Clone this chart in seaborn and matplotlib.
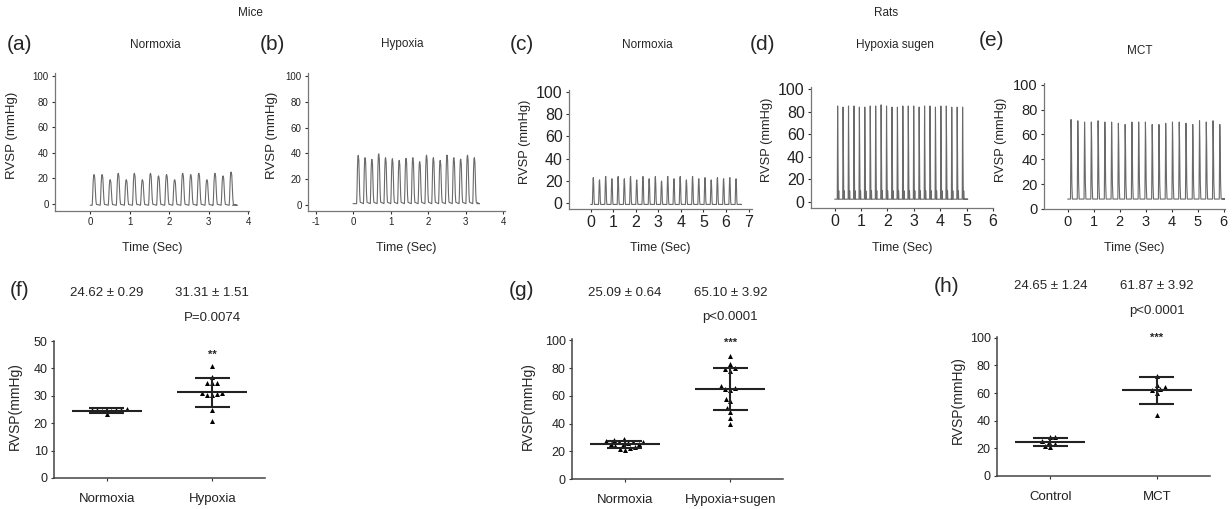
import numpy as np
import pandas as pd
import matplotlib.pyplot as plt
import seaborn as sns

sns.set_style("ticks")
plt.rcParams['font.family'] = ['Liberation Sans', 'DejaVu Sans']
plt.rcParams['axes.unicode_minus'] = False

# ---- pressure traces: peak height (mmHg) of every beat ----
peaks_a = [23, 23, 19, 24, 19, 24, 19, 24, 22, 23, 19, 24, 23, 24, 19, 24, 22, 25]
peaks_b = [38.5, 36.7, 35.4, 39.7, 36.7, 35.9, 34.6, 36.2, 36.7, 33.6, 38.7, 36.7,
           34.6, 38.7, 36.7, 35.6, 38.7, 36.7]
peaks_c = [23, 21, 24, 22, 24, 22, 24, 21, 24, 22, 24, 20, 24, 22, 24, 21, 24, 22,
           23, 21, 23, 22, 23, 22]
peaks_d = [85, 84, 85, 85, 84, 84, 85, 85, 86, 85, 84, 84, 85, 85, 85, 84, 85, 85,
           84, 85, 85, 84, 84, 84]
peaks_e = [72, 71, 70, 70, 71, 70, 70, 69, 68, 70, 70, 70, 68, 68, 69, 70, 70, 69,
           68, 71, 70, 71, 68]
# first peak time, beat period (s), trough pressure
first_peak = [0.10, 0.14, 0.12, 0.11, 0.13]
periods = [0.204, 0.182, 0.275, 0.206, 0.26]
troughs = [-1, 1, -1, 2.5, 8]

# ---- RVSP scatter data ----
f_groups = ["Normoxia", "Hypoxia"]
f_normoxia = [25.2, 25.0, 24.8, 24.5, 24.9, 24.3, 23.4, 24.7]
f_hypoxia = [40.9, 36.8, 34.5, 34.6, 34.6, 31.0, 30.5, 30.2, 30.4, 30.9, 24.8, 20.9]
f_mean = [24.62, 31.31]
f_sd = [0.8, 5.3]

g_groups = ["Normoxia", "Hypoxia+sugen"]
g_normoxia = [28.5, 28, 27.5, 27, 27, 26.5, 26, 25.5, 25, 24.5, 24, 23, 22.5, 22, 21]
g_sugen = [89, 83, 80, 79, 78, 67, 66, 65, 64, 58, 56, 51, 48, 44, 40]
g_mean = [25.09, 65.10]
g_sd = [2.6, 15.0]

h_groups = ["Control", "MCT"]
h_control = [28.5, 28, 25, 24.5, 23, 22, 21]
h_mct = [72, 66, 64, 63, 62, 60, 44]
h_mean = [24.65, 61.87]
h_sd = [3.1, 10.0]

W, H = 1232, 509
fig = plt.figure(figsize=(W / 100, H / 100), dpi=100)


def box(x0, x1, y_top, y_bot):
    return [x0 / W, 1 - y_bot / H, (x1 - x0) / W, (y_bot - y_top) / H]


def ftext(x, y, s, **kw):
    kw.setdefault("ha", "center")
    kw.setdefault("va", "center")
    fig.text(x / W, 1 - y / H, s, **kw)


def trace(peaks, t0, period, base, phase, frac, peak_phase, t_start, t_end):
    t, v = [t_start], [base]
    for i, p in enumerate(peaks):
        start = t0 + i * period - peak_phase * period
        for ph, fr in zip(phase, frac):
            t.append(start + ph * period)
            v.append(base + fr * (p - base))
    t.append(t_end)
    v.append(base)
    return pd.DataFrame({"t": t, "p": v})


round_phase = [0, 0.05, 0.12, 0.18, 0.24, 0.32, 0.38, 0.45, 0.52, 1.0]
round_frac = [0, 0.25, 0.75, 0.97, 1.0, 0.9, 0.6, 0.2, 0.03, 0]
narrow_phase = [0, 0.05, 0.11, 0.16, 0.22, 0.28, 0.34, 1.0]
narrow_frac = [0, 0.45, 0.95, 1.0, 0.7, 0.15, 0.0, 0]
spike_phase = [0, 0.07, 0.2, 0.24, 0.3, 0.34, 1.0]
spike_frac = [0, 1.0, 0.0, 0.09, 0.09, 0.0, 0]
mct_phase = [0, 0.04, 0.08, 0.13, 0.2, 0.28, 1.0]
mct_frac = [0, 0.6, 1.0, 0.75, 0.2, 0.0, 0]

top_panels = [
    # peaks, shape, peak phase, t range, axes px, xlim, ylim, xticks, font, letter, title
    (peaks_a, round_phase, round_frac, 0.24, (0.0, 3.6), (55, 249, 73, 211),
     (-0.89, 4.02), (-5.5, 102.5), [0, 1, 2, 3, 4], 7, "(a)", (20, 45), "Normoxia", (155, 45),
     (12, 135), 9.5),
    (peaks_b, round_phase, round_frac, 0.24, (0.0, 3.3), (308, 505, 73, 211),
     (-1.2, 4.05), (-4.7, 102.5), [-1, 0, 1, 2, 3, 4], 7, "(b)", (272, 45), "Hypoxia", (402, 44),
     (272, 135), 9.5),
    (peaks_c, narrow_phase, narrow_frac, 0.16, (0.0, 6.6), (569, 752, 90, 209),
     (-0.96, 7.15), (-5.1, 101.5), list(range(8)), 11.5, "(c)", (522, 45), "Normoxia", (647, 45),
     (525, 142), 9.3),
    (peaks_d, spike_phase, spike_frac, 0.07, (0.0, 4.9), (811, 993, 87, 208),
     (-0.9, 6.0), (-5.3, 101.8), list(range(7)), 11.5, "(d)", (762, 45), "Hypoxia sugen",
     (895, 45), (767, 140), 9.3),
    (peaks_e, mct_phase, mct_frac, 0.08, (0.0, 5.95), (1044, 1225, 83, 209),
     (-0.91, 6.05), (0, 101.4), list(range(7)), 10.5, "(e)", (991, 41), "MCT", (1140, 51),
     (1001, 140), 9.3),
]

for i, (pk, ph, fr, pp, trng, px, xl, yl, xt, fs, lett, lpos, title, tpos, ylpos, ylfs) in \
        enumerate(top_panels):
    ax = fig.add_axes(box(*px))
    df = trace(pk, first_peak[i], periods[i], troughs[i], ph, fr, pp, trng[0], trng[1])
    sns.lineplot(data=df, x="t", y="p", ax=ax, color="#6a6a6a", lw=0.8,
                 sort=False, estimator=None)
    ax.set_xlim(*xl)
    ax.set_ylim(*yl)
    ax.set_xticks(xt)
    ax.set_yticks([0, 20, 40, 60, 80, 100])
    ax.tick_params(labelsize=fs, length=2.5, width=0.8, pad=2, colors="#333",
                   labelcolor="#222")
    ax.set_xlabel("")
    ax.set_ylabel("")
    for s in ("top", "right"):
        ax.spines[s].set_visible(False)
    for s in ("left", "bottom"):
        ax.spines[s].set_color("#777")
        ax.spines[s].set_linewidth(0.9)
    ftext(ylpos[0], ylpos[1], "RVSP (mmHg)", rotation=90, fontsize=ylfs)
    ftext((px[0] + px[1]) / 2, 248, "Time (Sec)", fontsize=9)
    ftext(lpos[0], lpos[1], lett, fontsize=15)
    ftext(tpos[0], tpos[1], title, fontsize=8.5)

ftext(250, 13, "Mice", fontsize=8.5)
ftext(886, 13, "Rats", fontsize=8.5)

bottom_panels = [
    (f_groups, f_normoxia, f_hypoxia, f_mean, f_sd, (54, 265, 341, 478), (0, 50),
     [0, 10, 20, 30, 40, 50], "(f)", (20, 290), ("24.62 ± 0.29", "31.31 ± 1.51"), 293,
     "P=0.0074", 318, "**", 45, (15, 406)),
    (g_groups, g_normoxia, g_sugen, g_mean, g_sd, (572, 783, 339, 479), (0, 101),
     [0, 20, 40, 60, 80, 100], "(g)", (522, 290), ("25.09 ± 0.64", "65.10 ± 3.92"), 293,
     "p<0.0001", 317, "***", 98.5, (528, 406)),
    (h_groups, h_control, h_mct, h_mean, h_sd, (997, 1210, 337, 476), (0, 100.5),
     [0, 20, 40, 60, 80, 100], "(h)", (947, 286), ("24.65 ± 1.24", "61.87 ± 3.92"), 286,
     "p<0.0001", 311, "***", 100, (958, 400)),
]

for grp, v0, v1, mean, sd, px, yl, yt, lett, lpos, stats, sy, ptxt, py, star, stary, ylpos in \
        bottom_panels:
    ax = fig.add_axes(box(*px))
    df = pd.DataFrame({"group": [grp[0]] * len(v0) + [grp[1]] * len(v1),
                       "rvsp": v0 + v1})
    sns.swarmplot(data=df, x="group", y="rvsp", order=grp, ax=ax, marker="^",
                  color="black", size=3.6, linewidth=0)
    for k in range(2):
        ax.hlines(mean[k], k - 0.33, k + 0.33, color="#222", lw=1.5, zorder=3)
        ax.hlines([mean[k] - sd[k], mean[k] + sd[k]], k - 0.165, k + 0.165,
                  color="#222", lw=1.5, zorder=3)
        ax.vlines(k, mean[k] - sd[k], mean[k] + sd[k], color="#222", lw=1.5, zorder=3)
        ftext(px[0] + (k + 0.5) / 2.0 * (px[1] - px[0]), sy, stats[k], fontsize=9.5)
    ftext(px[0] + 1.5 / 2.0 * (px[1] - px[0]), py, ptxt, fontsize=9.5)
    ax.text(1, stary, star, ha="center", va="center", fontsize=8, fontweight="bold",
            clip_on=False)
    ax.set_xlim(-0.5, 1.5)
    ax.set_ylim(*yl)
    ax.set_yticks(yt)
    ax.set_xlabel("")
    ax.set_ylabel("")
    ax.tick_params(axis="y", labelsize=9, length=2.5, width=0.8, pad=2, colors="#333",
                   labelcolor="#222")
    ax.tick_params(axis="x", labelsize=9.5, length=2.5, width=0.8, pad=8, colors="#333",
                   labelcolor="#222")
    for s in ("top", "right"):
        ax.spines[s].set_visible(False)
    for s in ("left", "bottom"):
        ax.spines[s].set_color("#444")
        ax.spines[s].set_linewidth(1.1)
    ftext(ylpos[0], ylpos[1], "RVSP(mmHg)", rotation=90, fontsize=10)
    ftext(lpos[0], lpos[1], lett, fontsize=15)

fig.savefig("out.png", dpi=100)
